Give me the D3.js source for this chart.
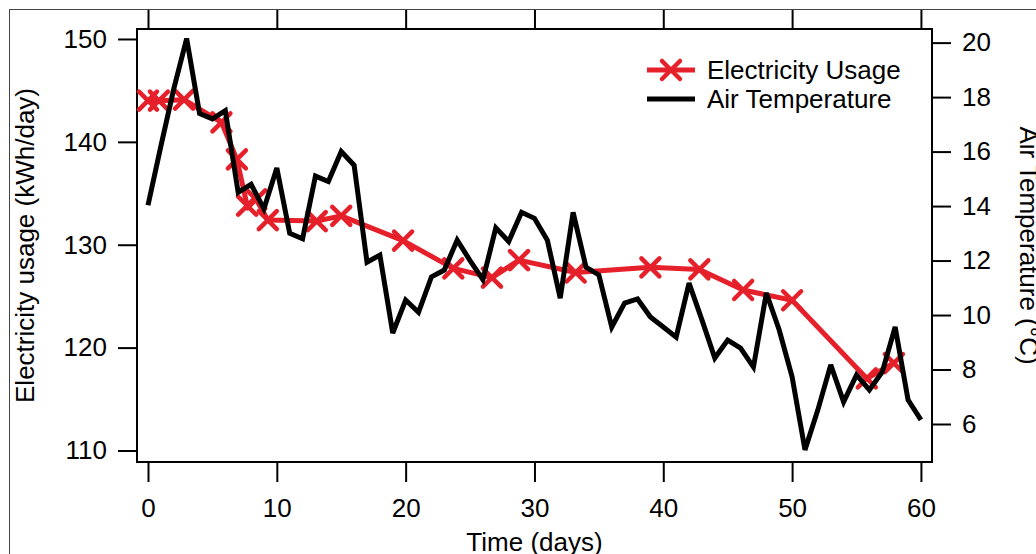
<!DOCTYPE html>
<html>
<head>
<meta charset="utf-8">
<script src="https://cdn.jsdelivr.net/npm/d3@7"></script>
<style>
  html, body { margin: 0; padding: 0; background: #fff; }
  svg { display: block; }
  text { font-family: "Liberation Sans", Arial, sans-serif; }
</style>
</head>
<body>
<svg id="chart" width="1036" height="554"></svg>
<script>
// ---- data ----
const elecDays = [0, 0.85, 2.8, 5.7, 6.9, 7.7, 8.4, 9.3, 13.1, 15.0, 19.8, 23.7, 26.7, 28.8, 33.2, 39.0, 42.8, 46.2, 50.0, 55.8, 57.9];
const elecUsage = [144.0, 144.0, 144.1, 141.9, 138.3, 133.8, 134.4, 132.4, 132.3, 132.8, 130.4, 127.7, 126.8, 128.5, 127.3, 127.8, 127.6, 125.6, 124.6, 117.0, 118.5];

const tempDays = [0,1,2,3,4,5,6,7,8,9,10,11,12,13,14,15,16,17,18,19,20,21,22,23,24,25,26,27,28,29,30,31,32,33,34,35,36,37,38,39,40,41,42,43,44,45,46,47,48,49,50,51,52,53,54,55,56,57,58,59,60];
const airTemp = [14.03,16.2,18.3,20.15,17.4,17.2,17.5,14.5,14.8,13.9,15.4,13.0,12.8,15.1,14.9,16.0,15.5,11.94,12.2,9.34,10.55,10.1,11.4,11.65,12.75,12.0,11.3,13.2,12.7,13.77,13.55,12.75,10.62,13.77,11.76,11.47,9.56,10.44,10.59,9.93,9.56,9.19,11.17,9.82,8.42,9.08,8.79,8.09,10.81,9.45,7.73,5.05,6.52,8.17,6.81,7.80,7.25,7.91,9.56,6.89,6.15];

const xTicks = [0, 10, 20, 30, 40, 50, 60];
const leftTicks = [110, 120, 130, 140, 150];
const rightTicks = [6, 8, 10, 12, 14, 16, 18, 20];

const seriesNames = ["Electricity Usage", "Air Temperature"];
const xTitle = "Time (days)";
const leftTitle = "Electricity usage (kWh/day)";
const rightTitle = "Air Temperature (°C)";

// ---- layout ----
const L = 137, R = 932, T = 29, B = 462;
const RED = "#e5202a";
const FS = 26;

const svg = d3.select("#chart");

// outer frame of the figure
svg.append("rect").attr("x", 9.5).attr("y", 9.5).attr("width", 1200).attr("height", 1200)
  .attr("fill", "none").attr("stroke", "#444").attr("stroke-width", 1);

const x = d3.scaleLinear().domain([-0.854, 60.86]).range([L, R]);
const yL = d3.scaleLinear().domain([108.88, 150.97]).range([B, T]);
const yR = d3.scaleLinear().domain([4.605, 20.50]).range([B, T]);

function styleAxis(g) {
  g.select(".domain").remove();
  g.selectAll(".tick line").attr("stroke", "#000").attr("stroke-width", 2);
  g.selectAll(".tick text").attr("fill", "#000").style("font-size", FS + "px")
    .style("font-family", '"Liberation Sans", Arial, sans-serif');
}

svg.append("g").attr("transform", `translate(0,${B})`)
  .call(d3.axisBottom(x).tickValues(xTicks).tickSize(20).tickPadding(17).tickSizeOuter(0))
  .call(styleAxis);
svg.append("g").attr("transform", `translate(0,${T})`)
  .call(d3.axisTop(x).tickValues(xTicks).tickSize(19).tickFormat("").tickSizeOuter(0))
  .call(styleAxis);
svg.append("g").attr("transform", `translate(${L},0)`)
  .call(d3.axisLeft(yL).tickValues(leftTicks).tickSize(19).tickPadding(11).tickSizeOuter(0))
  .call(styleAxis);
svg.append("g").attr("transform", `translate(${R},0)`)
  .call(d3.axisRight(yR).tickValues(rightTicks).tickSize(19).tickPadding(11).tickSizeOuter(0))
  .call(styleAxis);

// plot frame
svg.append("rect").attr("x", L).attr("y", T).attr("width", R - L).attr("height", B - T)
  .attr("fill", "none").attr("stroke", "#000").attr("stroke-width", 2);

// electricity series
const elecData = elecDays.map((d, i) => ({ x: d, y: elecUsage[i] }));
svg.append("path").datum(elecData)
  .attr("fill", "none").attr("stroke", RED).attr("stroke-width", 5)
  .attr("stroke-linejoin", "round")
  .attr("d", d3.line().x(d => x(d.x)).y(d => yL(d.y)));

const ms = 9;
function xMarker(g, cx, cy) {
  g.append("path")
    .attr("d", `M${cx - ms},${cy - ms}L${cx + ms},${cy + ms}M${cx - ms},${cy + ms}L${cx + ms},${cy - ms}`)
    .attr("stroke", RED).attr("stroke-width", 4.5).attr("stroke-linecap", "round").attr("fill", "none");
}
const mg = svg.append("g");
elecData.forEach(d => xMarker(mg, x(d.x), yL(d.y)));

// temperature series
const tempData = tempDays.map((d, i) => ({ x: d, y: airTemp[i] }));
svg.append("path").datum(tempData)
  .attr("fill", "none").attr("stroke", "#000").attr("stroke-width", 5)
  .attr("stroke-linejoin", "miter").attr("stroke-miterlimit", 3)
  .attr("d", d3.line().x(d => x(d.x)).y(d => yR(d.y)));

// legend
const lg = svg.append("g");
lg.append("line").attr("x1", 647).attr("x2", 695).attr("y1", 70).attr("y2", 70)
  .attr("stroke", RED).attr("stroke-width", 5);
xMarker(lg, 671, 70);
lg.append("text").attr("x", 707).attr("y", 79).style("font-size", FS + "px").text(seriesNames[0]);
lg.append("line").attr("x1", 647).attr("x2", 695).attr("y1", 99).attr("y2", 99)
  .attr("stroke", "#000").attr("stroke-width", 5);
lg.append("text").attr("x", 707).attr("y", 108).style("font-size", FS + "px").text(seriesNames[1]);

// axis titles
svg.append("text").attr("text-anchor", "middle")
  .attr("transform", `translate(${(L + R) / 2},551)`)
  .style("font-size", FS + "px").text(xTitle);
svg.append("text").attr("text-anchor", "middle")
  .attr("transform", `translate(34,${(T + B) / 2}) rotate(-90)`)
  .style("font-size", FS + "px").text(leftTitle);
svg.append("text").attr("text-anchor", "middle")
  .attr("transform", `translate(1020,${(T + B) / 2}) rotate(90)`)
  .style("font-size", FS + "px").text(rightTitle);
</script>
</body>
</html>
